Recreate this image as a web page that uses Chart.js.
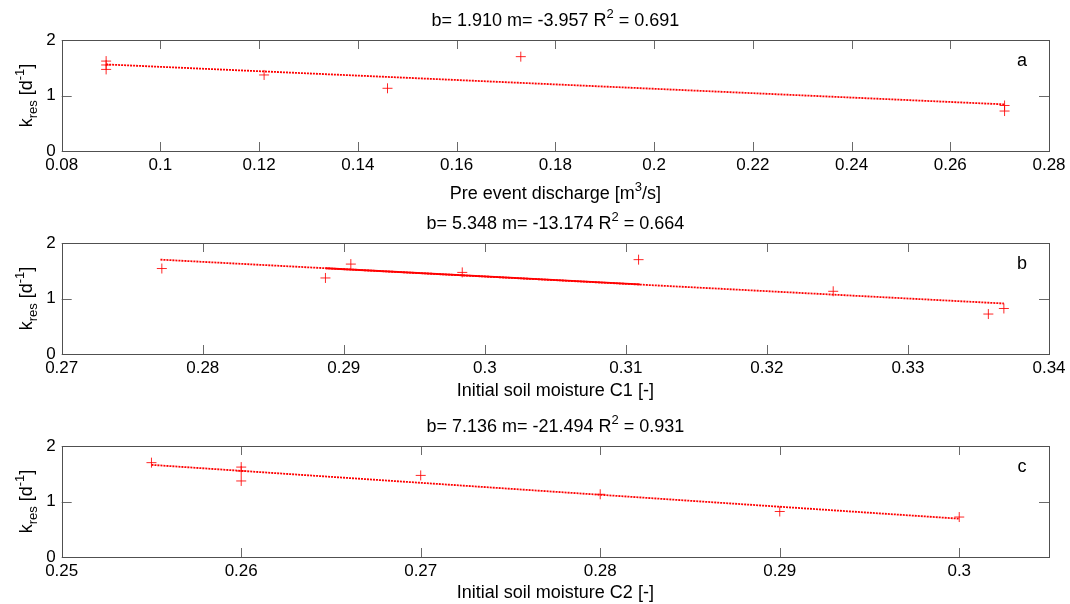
<!DOCTYPE html>
<html>
<head>
<meta charset="utf-8">
<script src="https://cdn.jsdelivr.net/npm/chart.js@4.4.1/dist/chart.umd.min.js"></script>
<style>
  body { margin: 0; background: #fff; }
  .wrap { position: relative; width: 1070px; height: 604px; }
  canvas { position: absolute; left: 0; top: 0; }
</style>
</head>
<body>
<div class="wrap">
<canvas id="panelA" width="1070" height="604"></canvas>
<canvas id="panelB" width="1070" height="604"></canvas>
<canvas id="panelC" width="1070" height="604"></canvas>
</div>
<script>
// k_res values of the 8 events, against three predictors
const dischargeA = [0.089, 0.089, 0.089, 0.121, 0.146, 0.173, 0.271, 0.271];
const kA = [1.62, 1.55, 1.47, 1.37, 1.13, 1.70, 0.82, 0.72];
const moistC1 = [0.2771, 0.2887, 0.2905, 0.2984, 0.3109, 0.3247, 0.3357, 0.3368];
const kB = [1.54, 1.37, 1.62, 1.47, 1.70, 1.13, 0.72, 0.82];
const moistC2 = [0.255, 0.26, 0.26, 0.26, 0.27, 0.28, 0.29, 0.30];
const kC = [1.70, 1.62, 1.55, 1.37, 1.47, 1.13, 0.82, 0.72];

// regression lines (end points)
const fitAx = [0.089, 0.271], fitAk = [1.56, 0.84];
const fitBx = [0.277, 0.3368], fitBk = [1.70, 0.91];
const fitBsolidX = [0.2887, 0.311], fitBsolidK = [1.545, 1.255];
const fitCx = [0.255, 0.300], fitCk = [1.66, 0.69];

// axis ranges and tick steps
const xRanges = [[0.08, 0.28, 0.02], [0.27, 0.34, 0.01], [0.25, 0.305, 0.01]];
const yTicks = [0, 1, 2];

// text
const titles = [
    [{t: 'b= 1.910 m= -3.957 R'}, {t: '2', sup: true}, {t: ' = 0.691'}],
    [{t: 'b= 5.348 m= -13.174 R'}, {t: '2', sup: true}, {t: ' = 0.664'}],
    [{t: 'b= 7.136 m= -21.494 R'}, {t: '2', sup: true}, {t: ' = 0.931'}]
];
const xLabels = [
    [{t: 'Pre event discharge [m'}, {t: '3', sup: true}, {t: '/s]'}],
    [{t: 'Initial soil moisture C1 [-]'}],
    [{t: 'Initial soil moisture C2 [-]'}]
];
const yLabel = [{t: 'k'}, {t: 'res', sub: true}, {t: ' [d'}, {t: '-1', sup: true}, {t: ']'}];
const panelLetters = ['a', 'b', 'c'];

const FONT = '"Liberation Sans", Arial, sans-serif';
const H = 604;

function toPts(xs, ys) {
    return xs.map((x, i) => ({x: x, y: ys[i]}));
}

// Draw text with sub/superscripts centred on x
function drawRich(ctx, parts, x, y, size) {
    const small = Math.round(size * 0.7);
    let total = 0;
    parts.forEach(p => {
        ctx.font = `${p.sup || p.sub ? small : size}px ${FONT}`;
        p.w = ctx.measureText(p.t).width;
        total += p.w;
    });
    let cx = x - total / 2;
    ctx.textAlign = 'left';
    ctx.textBaseline = 'alphabetic';
    parts.forEach(p => {
        ctx.font = `${p.sup || p.sub ? small : size}px ${FONT}`;
        let dy = 0;
        if (p.sup) dy = -size * 0.42;
        if (p.sub) dy = size * 0.3;
        ctx.fillText(p.t, cx, y + dy);
        cx += p.w;
    });
}

// top and bottom of each plot box, in page pixels; labelGap = box bottom to x label baseline
function makePanel(id, idx, datasets, top, bottom, labelGap) {
    const canvas = document.getElementById(id);
    const [xmin, xmax, step] = xRanges[idx];

    const decor = {
        id: 'decor' + idx,
        afterDraw(chart) {
            const {ctx, chartArea: a, scales} = chart;
            ctx.save();
            // inward tick marks on all four sides
            ctx.strokeStyle = '#6a6a6a';
            ctx.lineWidth = 1;
            ctx.beginPath();
            scales.x.ticks.forEach(t => {
                const px = Math.round(scales.x.getPixelForValue(t.value)) + 0.5;
                ctx.moveTo(px, a.bottom); ctx.lineTo(px, a.bottom - 9);
                ctx.moveTo(px, a.top); ctx.lineTo(px, a.top + 9);
            });
            scales.y.ticks.forEach(t => {
                const py = Math.round(scales.y.getPixelForValue(t.value)) + 0.5;
                ctx.moveTo(a.left, py); ctx.lineTo(a.left + 10, py);
                ctx.moveTo(a.right, py); ctx.lineTo(a.right - 10, py);
            });
            ctx.stroke();
            // box
            ctx.strokeStyle = '#505050';
            ctx.strokeRect(Math.round(a.left) + 0.5, Math.round(a.top) + 0.5,
                Math.round(a.right - a.left), Math.round(a.bottom - a.top));

            ctx.fillStyle = '#000';
            const mid = (a.left + a.right) / 2;
            drawRich(ctx, titles[idx], mid, a.top - 14, 18);
            drawRich(ctx, xLabels[idx], mid, a.bottom + labelGap, 18);

            ctx.font = `18px ${FONT}`;
            ctx.textAlign = 'center';
            ctx.textBaseline = 'middle';
            ctx.fillText(panelLetters[idx], a.right - 27, a.top + 21);

            ctx.translate(32, (a.top + a.bottom) / 2);
            ctx.rotate(-Math.PI / 2);
            drawRich(ctx, yLabel, 0, 0, 18);
            ctx.restore();
        }
    };

    return new Chart(canvas.getContext('2d'), {
        type: 'scatter',
        data: {datasets},
        options: {
            responsive: false,
            animation: false,
            devicePixelRatio: 1,
            layout: {padding: {top: top, right: 21, left: 0, bottom: 0}},
            plugins: {legend: {display: false}, tooltip: {enabled: false}},
            scales: {
                x: {
                    type: 'linear', min: xmin, max: xmax,
                    grid: {display: false, drawTicks: false}, border: {display: false},
                    ticks: {
                        stepSize: step, includeBounds: false, autoSkip: false, maxRotation: 0,
                        padding: 4, color: '#000', font: {family: FONT, size: 17},
                        callback: v => String(+v.toFixed(4))
                    },
                    afterFit: s => { s.height = H - bottom; }
                },
                y: {
                    type: 'linear', min: 0, max: 2,
                    grid: {display: false, drawTicks: false}, border: {display: false},
                    afterBuildTicks: s => { s.ticks = yTicks.map(v => ({value: v})); },
                    ticks: {padding: 6, color: '#000', font: {family: FONT, size: 17}},
                    afterFit: s => { s.width = 61.7; }
                }
            }
        },
        plugins: [decor]
    });
}

const crossStyle = {
    showLine: false, pointStyle: 'cross', pointRadius: 5, pointHoverRadius: 5,
    borderColor: 'rgba(255,0,0,0.85)', backgroundColor: 'rgba(255,0,0,0.85)', borderWidth: 1
};
const fitStyle = {
    showLine: true, pointRadius: 0, borderColor: '#ff0000', borderWidth: 1.8,
    borderDash: [2, 1]
};

makePanel('panelA', 0, [
    {...fitStyle, data: toPts(fitAx, fitAk)},
    {...crossStyle, data: toPts(dischargeA, kA)}
], 40, 151, 48);

makePanel('panelB', 1, [
    {...fitStyle, data: toPts(fitBx, fitBk)},
    {...fitStyle, borderDash: [], data: toPts(fitBsolidX, fitBsolidK)},
    {...crossStyle, data: toPts(moistC1, kB)}
], 243, 354, 42);

makePanel('panelC', 2, [
    {...fitStyle, data: toPts(fitCx, fitCk)},
    {...crossStyle, data: toPts(moistC2, kC)}
], 446, 557, 41);
</script>
</body>
</html>
